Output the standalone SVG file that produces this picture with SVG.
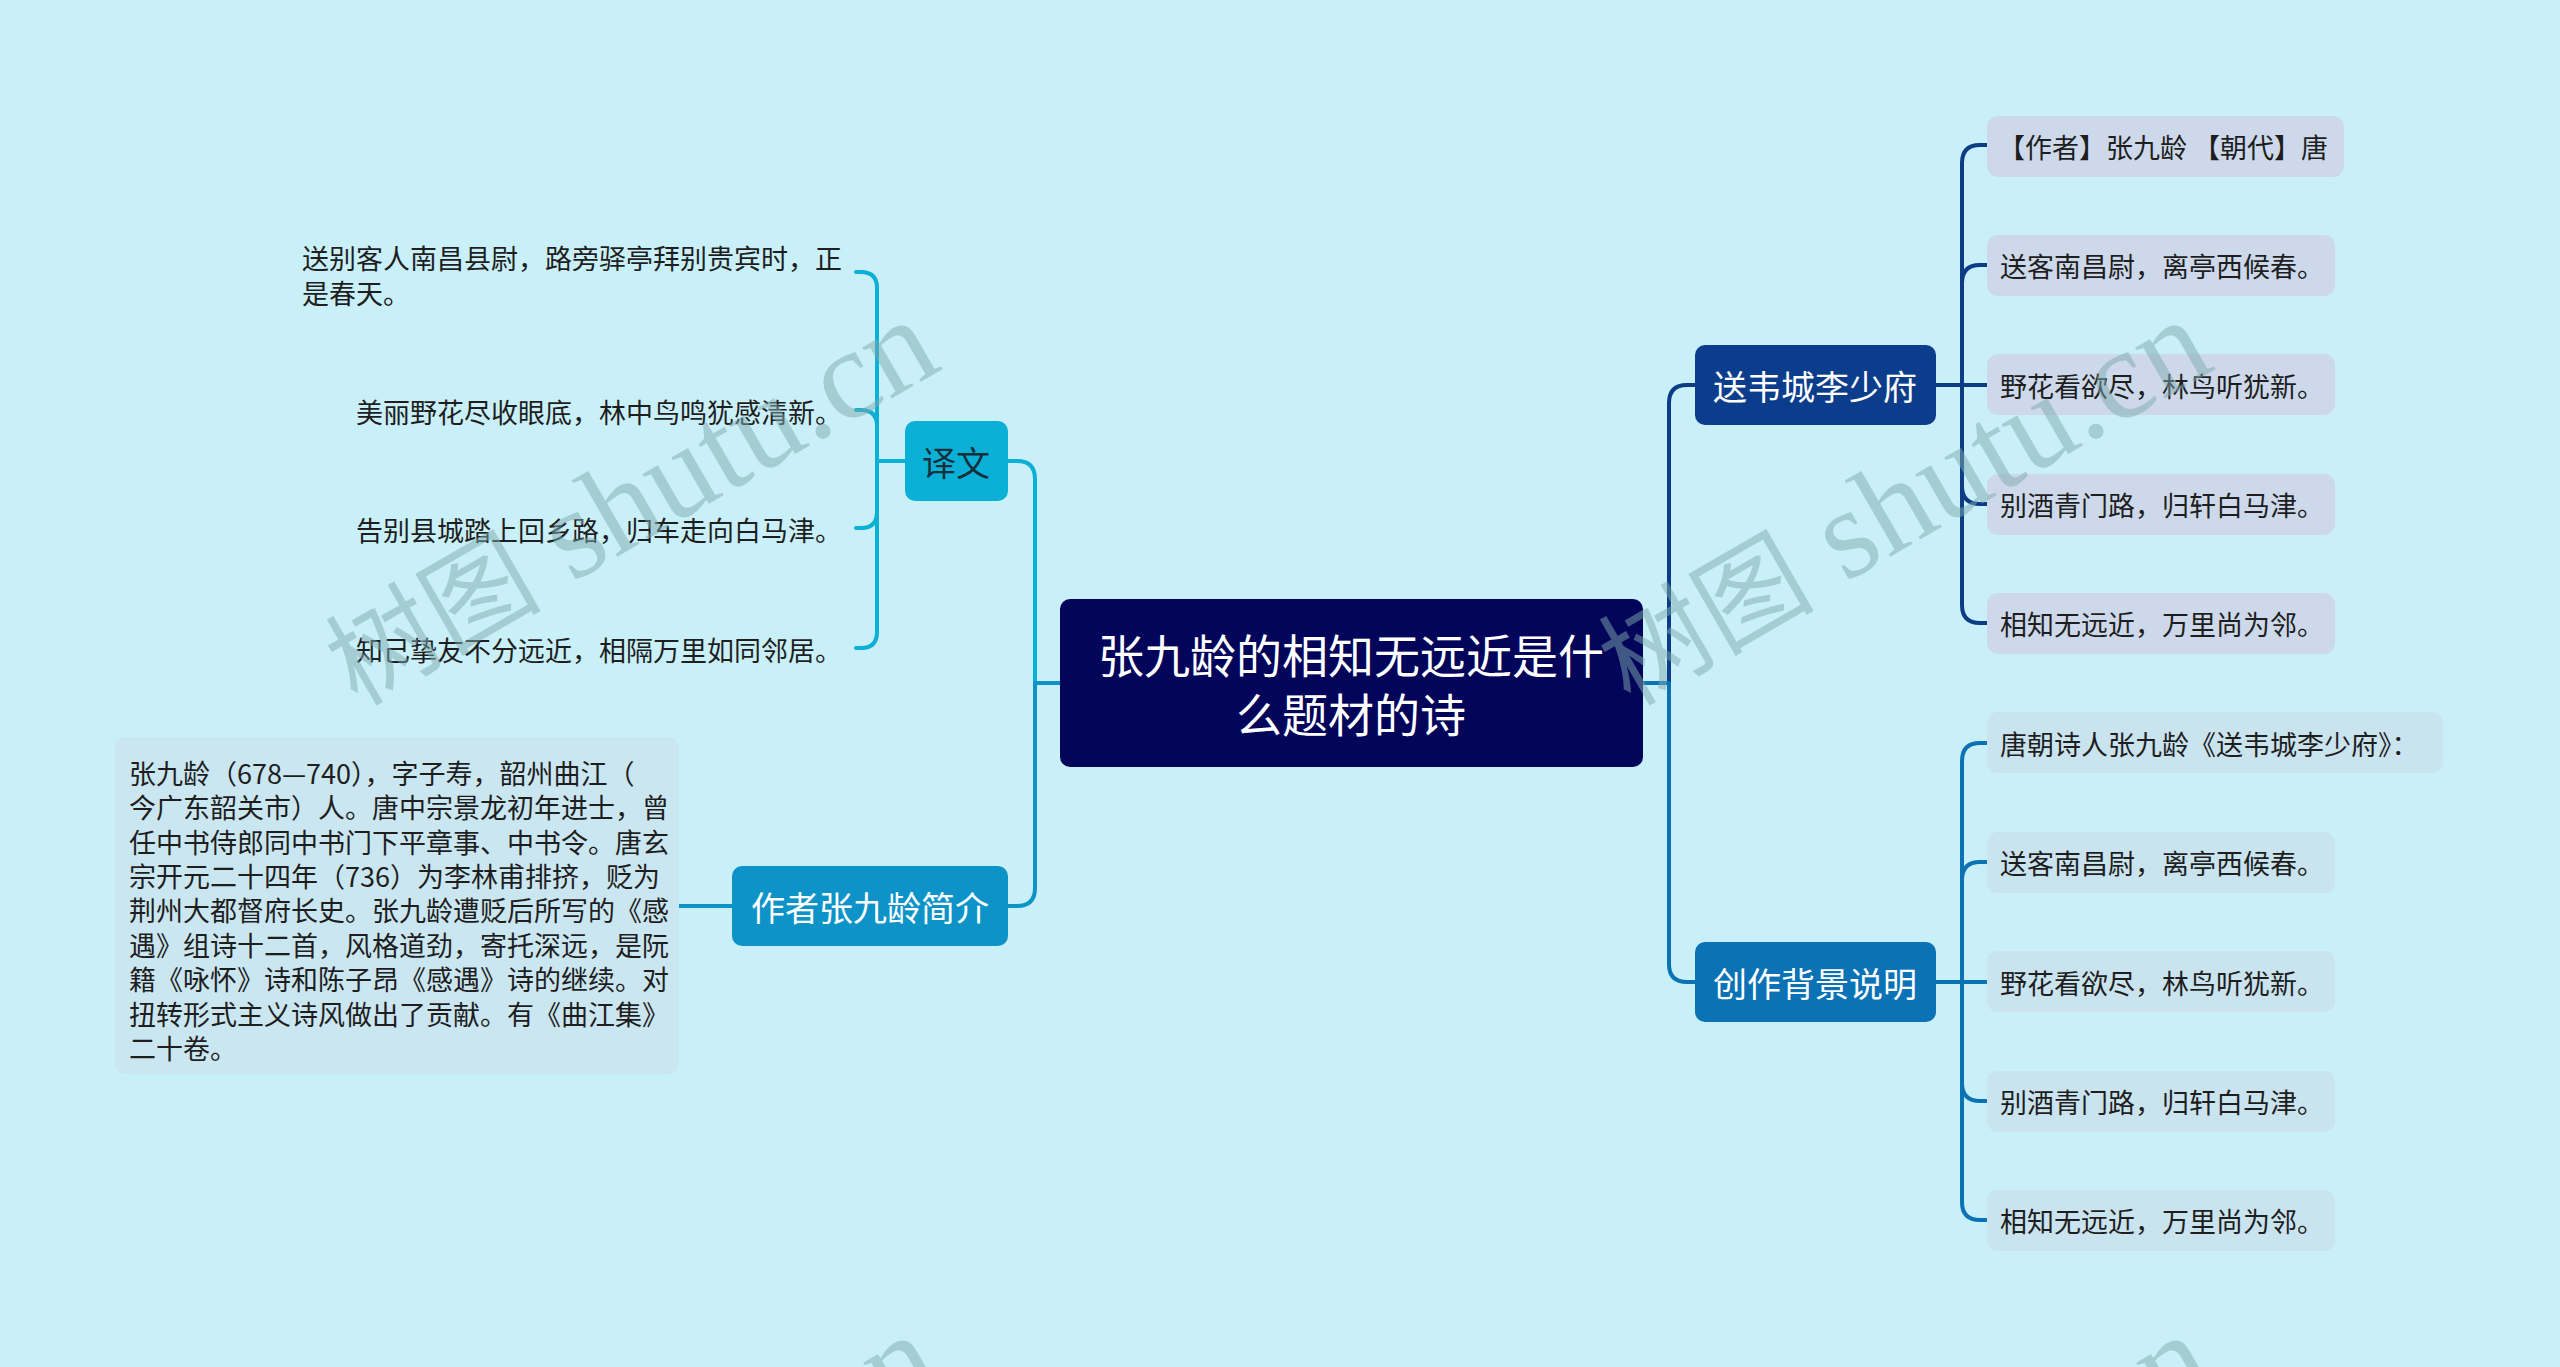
<svg xmlns="http://www.w3.org/2000/svg" width="2560" height="1367" viewBox="0 0 2560 1367">
<style>
text{font-family:"Noto Sans CJK SC","Noto Sans",sans-serif}
.ct{font-size:46px;fill:#ffffff;text-anchor:middle;dominant-baseline:central}
.bt{font-size:34px;fill:#ffffff;text-anchor:middle;dominant-baseline:central}
.lt{font-size:27px;fill:#1e1e1e;dominant-baseline:central}
.c{fill:none;stroke-width:4;stroke-linecap:round;stroke-linejoin:round}
.wm{fill:#7faab0;opacity:0.5}
.wc{font-family:"Noto Sans CJK SC",serif;font-size:108px}
.wl{font-family:"Liberation Serif",serif;font-size:128px}
.l1{fill:#cdd9ea}
.l2{fill:#c9e3ef}
</style>
<rect x="0" y="0" width="2560" height="1367" fill="#c9f0f8"/>
<g id="connectors">
<path class="c" stroke="#0c3c85" d="M1643,683 H1669 V403 Q1669,385 1687,385 H1695"/>
<path class="c" stroke="#0b72b5" d="M1643,683 H1669 V964 Q1669,982 1687,982 H1695"/>
<path class="c" stroke="#0ab0d6" d="M1060,683 H1035 V479 Q1035,461 1017,461 H1008"/>
<path class="c" stroke="#0e93c9" d="M1060,683 H1035 V888 Q1035,906 1017,906 H1008"/>
<g stroke="#0c3c85">
<path class="c" d="M1935,385 H1962 V163 Q1962,145 1980,145 H1987"/>
<path class="c" d="M1935,385 H1962 V283 Q1962,265 1980,265 H1987"/>
<path class="c" d="M1935,385 H1987"/>
<path class="c" d="M1935,385 H1962 V486 Q1962,504 1980,504 H1987"/>
<path class="c" d="M1935,385 H1962 V605 Q1962,623 1980,623 H1987"/>
</g>
<g stroke="#0b72b5">
<path class="c" d="M1935,982 H1962 V761 Q1962,743 1980,743 H1987"/>
<path class="c" d="M1935,982 H1962 V880 Q1962,862 1980,862 H1987"/>
<path class="c" d="M1935,982 H1987"/>
<path class="c" d="M1935,982 H1962 V1083 Q1962,1101 1980,1101 H1987"/>
<path class="c" d="M1935,982 H1962 V1202 Q1962,1220 1980,1220 H1987"/>
</g>
<g stroke="#0ab0d6">
<path class="c" d="M905,461 H877 V288 Q877,272 861,272 H856"/>
<path class="c" d="M905,461 H877 V426 Q877,410 861,410 H856"/>
<path class="c" d="M905,461 H877 V512 Q877,528 861,528 H856"/>
<path class="c" d="M905,461 H877 V632 Q877,648 861,648 H856"/>
</g>
<path class="c" stroke="#0e93c9" d="M732,906 H679"/>
</g>
<g id="root">
<rect x="1060" y="599" width="583" height="168" rx="10" fill="#03055a"/>
<text class="ct" x="1351" y="653">张九龄的相知无远近是什</text>
<text class="ct" x="1351" y="712">么题材的诗</text>
</g>
<g id="branch-songwei">
<rect x="1695" y="345" width="241" height="80" rx="10" fill="#0b3d8c"/>
<text class="bt" x="1815" y="385">送韦城李少府</text>
</g>
<g id="branch-beijing">
<rect x="1695" y="942" width="241" height="80" rx="10" fill="#0b72b5"/>
<text class="bt" x="1815" y="982">创作背景说明</text>
</g>
<g id="branch-yiwen">
<rect x="905" y="421" width="103" height="80" rx="10" fill="#0ab0d6"/>
<text class="bt" x="956" y="461" style="fill:#15303c">译文</text>
</g>
<g id="branch-zuozhe">
<rect x="732" y="866" width="276" height="80" rx="10" fill="#0e93c9"/>
<text class="bt" x="870" y="906">作者张九龄简介</text>
</g>
<g id="leaf-s1"><rect class="l1" x="1987" y="116" width="357" height="61" rx="11"/><text class="lt" x="1998" y="146">【作者】张九龄 【朝代】唐</text></g>
<g id="leaf-s2"><rect class="l1" x="1987" y="235" width="348" height="61" rx="11"/><text class="lt" x="2000" y="265">送客南昌尉，离亭西候春。</text></g>
<g id="leaf-s3"><rect class="l1" x="1987" y="354" width="348" height="61" rx="11"/><text class="lt" x="2000" y="385">野花看欲尽，林鸟听犹新。</text></g>
<g id="leaf-s4"><rect class="l1" x="1987" y="474" width="348" height="61" rx="11"/><text class="lt" x="2000" y="504">别酒青门路，归轩白马津。</text></g>
<g id="leaf-s5"><rect class="l1" x="1987" y="593" width="348" height="61" rx="11"/><text class="lt" x="2000" y="623">相知无远近，万里尚为邻。</text></g>
<g id="leaf-b1"><rect class="l2" x="1987" y="712" width="456" height="61" rx="11"/><text class="lt" x="2000" y="743">唐朝诗人张九龄《送韦城李少府》：</text></g>
<g id="leaf-b2"><rect class="l2" x="1987" y="832" width="348" height="61" rx="11"/><text class="lt" x="2000" y="862">送客南昌尉，离亭西候春。</text></g>
<g id="leaf-b3"><rect class="l2" x="1987" y="951" width="348" height="61" rx="11"/><text class="lt" x="2000" y="982">野花看欲尽，林鸟听犹新。</text></g>
<g id="leaf-b4"><rect class="l2" x="1987" y="1071" width="348" height="61" rx="11"/><text class="lt" x="2000" y="1101">别酒青门路，归轩白马津。</text></g>
<g id="leaf-b5"><rect class="l2" x="1987" y="1190" width="348" height="61" rx="11"/><text class="lt" x="2000" y="1220">相知无远近，万里尚为邻。</text></g>
<g id="leaf-y1"><text class="lt" x="302" y="257">送别客人南昌县尉，路旁驿亭拜别贵宾时，正</text><text class="lt" x="302" y="292">是春天。</text></g>
<g id="leaf-y2"><text class="lt" x="356" y="411">美丽野花尽收眼底，林中鸟鸣犹感清新。</text></g>
<g id="leaf-y3"><text class="lt" x="356" y="529">告别县城踏上回乡路，归车走向白马津。</text></g>
<g id="leaf-y4"><text class="lt" x="356" y="649">知己挚友不分远近，相隔万里如同邻居。</text></g>
<g id="leaf-intro">
<rect x="115" y="737" width="564" height="337" rx="11" fill="#cae6f1"/>
<text class="lt" x="129" y="772">张九龄（678—740），字子寿，韶州曲江（</text>
<text class="lt" x="129" y="806">今广东韶关市）人。唐中宗景龙初年进士，曾</text>
<text class="lt" x="129" y="841">任中书侍郎同中书门下平章事、中书令。唐玄</text>
<text class="lt" x="129" y="875">宗开元二十四年（736）为李林甫排挤，贬为</text>
<text class="lt" x="129" y="909">荆州大都督府长史。张九龄遭贬后所写的《感</text>
<text class="lt" x="129" y="944">遇》组诗十二首，风格道劲，寄托深远，是阮</text>
<text class="lt" x="129" y="978">籍《咏怀》诗和陈子昂《感遇》诗的继续。对</text>
<text class="lt" x="129" y="1013">扭转形式主义诗风做出了贡献。有《曲江集》</text>
<text class="lt" x="129" y="1047">二十卷。</text>
</g>
<g id="watermark">
<text class="wm" transform="translate(357,707) rotate(-30)"><tspan class="wc">树图</tspan><tspan class="wl"> shutu.cn</tspan></text>
<text class="wm" transform="translate(1630,707) rotate(-30)"><tspan class="wc">树图</tspan><tspan class="wl"> shutu.cn</tspan></text>
<text class="wm" transform="translate(358,1722) rotate(-30)"><tspan class="wc">树图</tspan><tspan class="wl"> shutu.cn</tspan></text>
<text class="wm" transform="translate(1631,1722) rotate(-30)"><tspan class="wc">树图</tspan><tspan class="wl"> shutu.cn</tspan></text>
</g>
</svg>
